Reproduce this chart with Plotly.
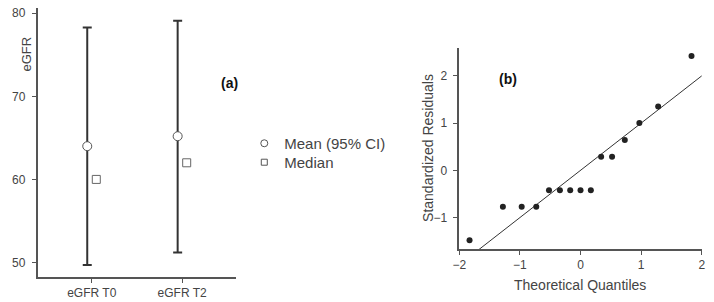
import plotly.graph_objects as go

# Panel (a) data
categories = ["eGFR T0", "eGFR T2"]
mean_vals = [64.0, 65.2]
ci_upper = [78.3, 79.1]
ci_lower = [49.7, 51.2]
median_vals = [60.0, 62.0]

# Panel (b) data
theo_q = [-1.83, -1.28, -0.97, -0.73, -0.52, -0.34, -0.17, 0.0, 0.17, 0.34, 0.52, 0.73, 0.97, 1.28, 1.83]
std_resid = [-1.48, -0.77, -0.77, -0.77, -0.42, -0.42, -0.42, -0.42, -0.42, 0.29, 0.29, 0.64, 1.0, 1.35, 2.42]
ref_line_x = [-2, 2]
ref_line_y = [-2, 2]

FONT = "Liberation Sans, Arial, sans-serif"
AX = "#555555"
TXT = "#444444"

idx = list(range(len(categories)))
off = 0.05

fig = go.Figure()
fig.add_trace(go.Scatter(
    x=[i - off for i in idx], y=mean_vals, mode="markers", showlegend=False,
    marker=dict(symbol="circle", size=9, color="white", line=dict(color="#555555", width=1)),
    error_y=dict(type="data", symmetric=False,
                 array=[u - m for u, m in zip(ci_upper, mean_vals)],
                 arrayminus=[m - l for m, l in zip(mean_vals, ci_lower)],
                 color="#333333", thickness=2, width=4.5),
    xaxis="x", yaxis="y"))
fig.add_trace(go.Scatter(
    x=[i + off for i in idx], y=median_vals, mode="markers", showlegend=False,
    marker=dict(symbol="square", size=8, color="white", line=dict(color="#666666", width=1)),
    xaxis="x", yaxis="y"))

# legend-only entries (smaller symbols as in the reference)
fig.add_trace(go.Scatter(
    x=[None], y=[None], mode="markers", name="Mean (95% CI)", legend="legend",
    marker=dict(symbol="circle", size=7, color="white", line=dict(color="#555555", width=1)),
    xaxis="x", yaxis="y"))
fig.add_trace(go.Scatter(
    x=[None], y=[None], mode="markers", name="Median", legend="legend2",
    marker=dict(symbol="square", size=6, color="white", line=dict(color="#555555", width=1)),
    xaxis="x", yaxis="y"))

fig.add_trace(go.Scatter(
    x=ref_line_x, y=ref_line_y, mode="lines", showlegend=False,
    line=dict(color="#333333", width=1), xaxis="x2", yaxis="y2"))
fig.add_trace(go.Scatter(
    x=theo_q, y=std_resid, mode="markers", showlegend=False,
    marker=dict(size=6, color="#222222"), xaxis="x2", yaxis="y2"))

axis_common = dict(showgrid=False, zeroline=False, showline=True, linecolor=AX, linewidth=1.5,
                   ticks="outside", ticklen=4, tickcolor=AX,
                   tickfont=dict(family=FONT, size=12, color=TXT))

legend_common = dict(xanchor="left", yanchor="middle",
                     font=dict(family=FONT, size=15, color=TXT), bgcolor="rgba(0,0,0,0)",
                     itemsizing="trace", itemwidth=30)

fig.update_layout(
    width=714, height=302, margin=dict(l=0, r=0, t=0, b=0),
    paper_bgcolor="white", plot_bgcolor="white",
    font=dict(family=FONT, color=TXT),
    xaxis=dict(domain=[31/714, 233/714], range=[-0.6, 1.6], tickvals=idx, ticktext=categories,
               anchor="y", **axis_common),
    yaxis=dict(domain=[25/302, 295/302], range=[48.24, 80.64], tickvals=[50, 60, 70, 80],
               anchor="x", ticklabelstandoff=4, **axis_common),
    xaxis2=dict(domain=[459.3/714, 705.7/714], range=[-2, 2], tickvals=[-2, -1, 0, 1, 2],
                anchor="y2", **axis_common),
    yaxis2=dict(domain=[53/302, 255.3/302], range=[-1.668, 2.598], tickvals=[-1, 0, 1, 2],
                anchor="x2", ticklabelstandoff=4, **axis_common),
    legend=dict(x=241/714, y=1 - 143/302, **legend_common),
    legend2=dict(x=241/714, y=1 - 162/302, **legend_common),
    showlegend=True,
    annotations=[
        dict(text="eGFR", x=20/714, y=1 - 53/302, xref="paper", yref="paper", textangle=-90,
             xanchor="center", yanchor="middle",
             showarrow=False, font=dict(family=FONT, size=13, color=TXT)),
        dict(text="<b>(a)</b>", x=226/714, y=1 - 82/302, xref="paper", yref="paper",
             xanchor="center", yanchor="middle",
             showarrow=False, font=dict(family=FONT, size=14, color="#111111")),
        dict(text="<b>(b)</b>", x=509/714, y=1 - 78/302, xref="paper", yref="paper",
             xanchor="center", yanchor="middle",
             showarrow=False, font=dict(family=FONT, size=14, color="#111111")),
        dict(text="Standardized Residuals", x=427/714, y=1 - 147/302, xref="paper", yref="paper",
             xanchor="center", yanchor="middle",
             textangle=-90, showarrow=False, font=dict(family=FONT, size=14, color=TXT)),
        dict(text="Theoretical Quantiles", x=582/714, y=1 - 285/302, xref="paper", yref="paper",
             xanchor="center", yanchor="middle",
             showarrow=False, font=dict(family=FONT, size=14, color=TXT)),
    ],
)

fig.write_html("out.html")
